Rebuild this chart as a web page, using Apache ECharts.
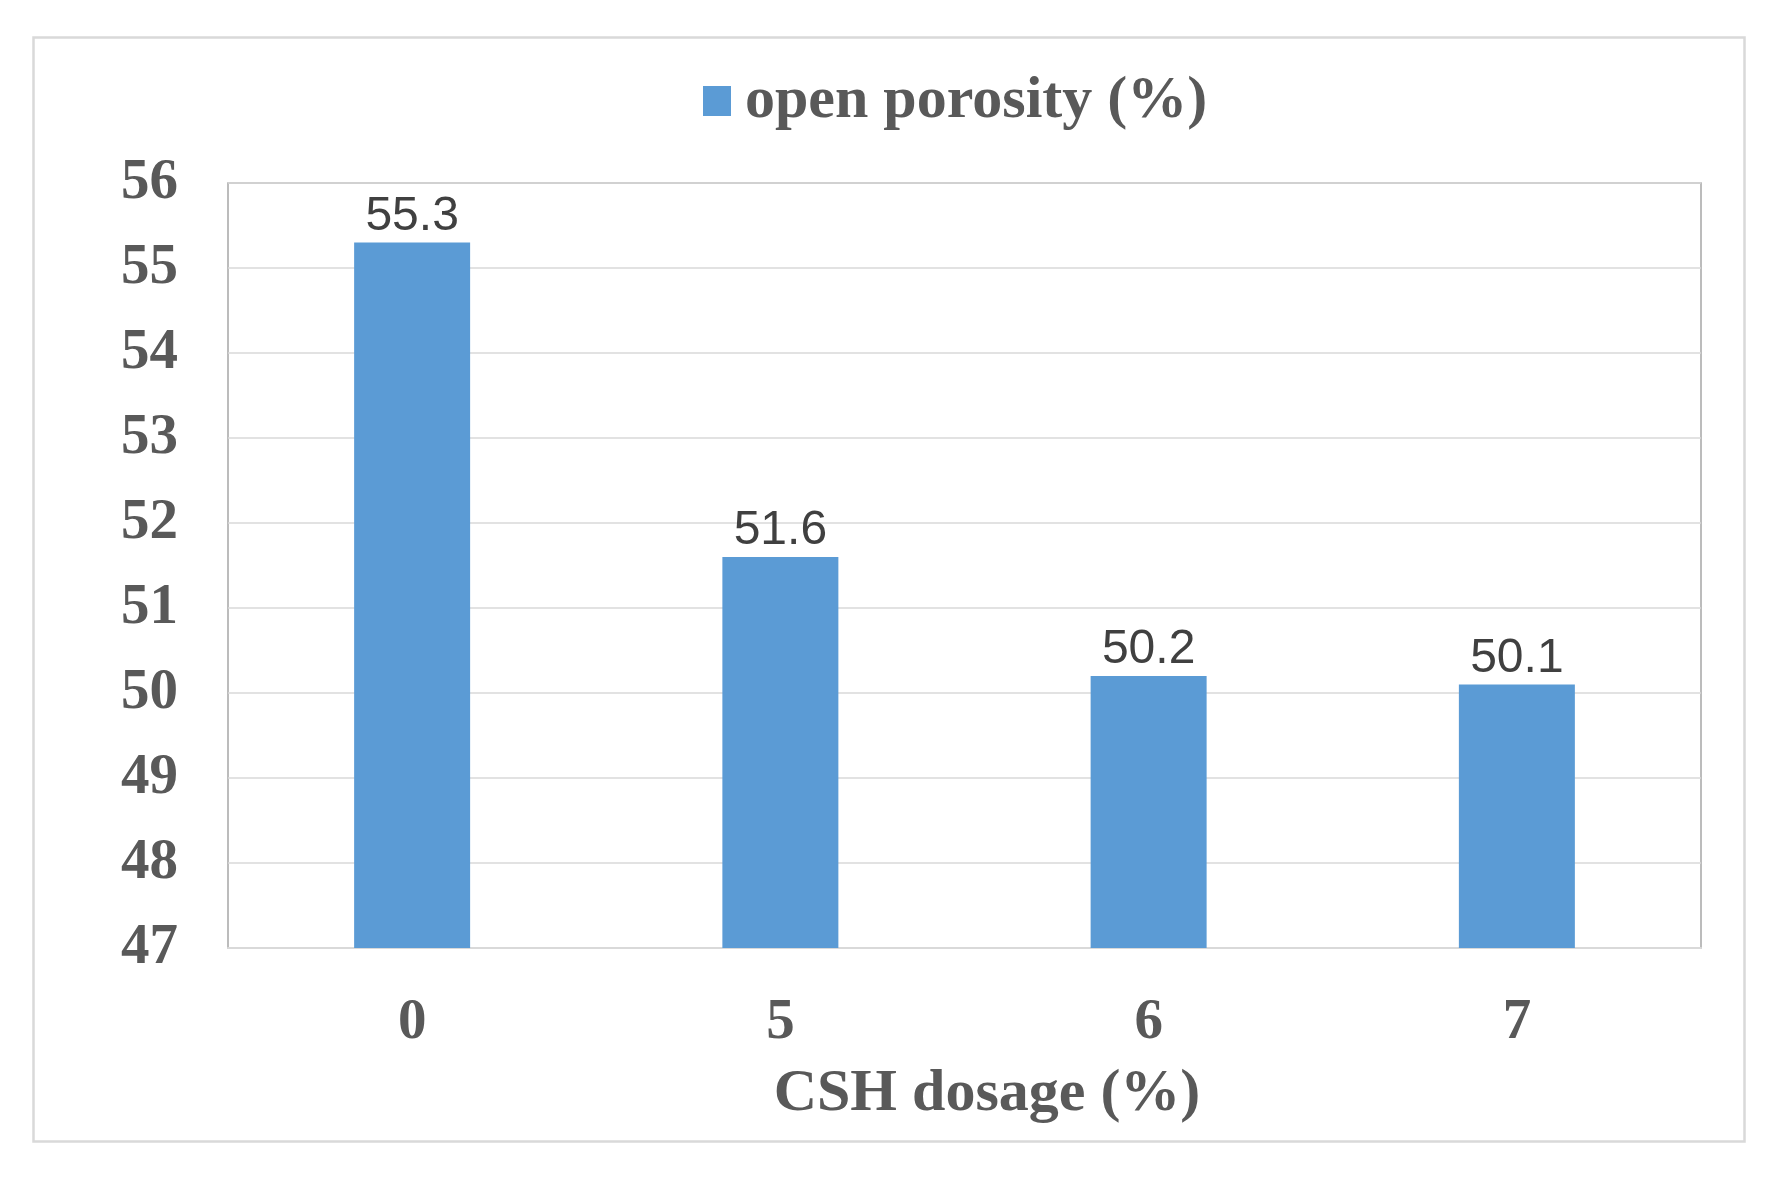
<!DOCTYPE html>
<html>
<head>
<meta charset="utf-8">
<script src="https://cdn.jsdelivr.net/npm/echarts@6/dist/echarts.min.js"></script>
<style>html,body{margin:0;padding:0;background:#fff}#c{width:1775px;height:1179px}</style>
</head>
<body>
<div id="c"></div>
<script>
const categories = ['0', '5', '6', '7'];
const seriesName = 'open porosity (%)';
const values = [55.3, 51.6, 50.2, 50.1];
const xAxisName = 'CSH dosage (%)';
const yMin = 47, yMax = 56, yInterval = 1;

const chart = echarts.init(document.getElementById('c'), null, {renderer: 'canvas'});
const serif = "'Liberation Serif', 'Times New Roman', serif";
const gray = '#595959';
chart.setOption({
  backgroundColor: '#ffffff',
  animation: false,
  graphic: [{
    type: 'rect', left: 31, top: 35,
    shape: {width: 1711, height: 1104},
    style: {fill: 'none', stroke: '#D9D9D9', lineWidth: 2.5},
    silent: true, z: -1
  }],
  legend: {
    show: true, left: 698, top: 66,
    itemWidth: 28, itemHeight: 30,
    icon: 'rect',
    textStyle: {fontFamily: serif, fontWeight: 'bold', fontSize: 60, color: gray, padding: [0, 0, 0, 9]},
    data: [seriesName]
  },
  grid: {left: 228, right: 74, top: 183, bottom: 231, show: true, borderColor: '#A6A6A6', borderWidth: 1.5, containLabel: false},
  xAxis: {
    type: 'category', data: categories,
    name: xAxisName, nameLocation: 'middle', nameGap: 116,
    nameTextStyle: {fontFamily: serif, fontWeight: 'bold', fontSize: 60, color: gray, padding: [0, 0, 0, 45]},
    axisLine: {show: true, lineStyle: {color: '#D9D9D9', width: 2}},
    axisTick: {show: false},
    axisLabel: {fontFamily: serif, fontWeight: 'bold', fontSize: 57, color: gray, margin: 47}
  },
  yAxis: {
    type: 'value', min: yMin, max: yMax, interval: yInterval,
    axisLine: {show: false}, axisTick: {show: false},
    splitLine: {lineStyle: {color: '#D9D9D9', width: 1.5}},
    axisLabel: {fontFamily: serif, fontWeight: 'bold', fontSize: 57, color: gray, margin: 50}
  },
  series: [{
    name: seriesName, type: 'bar', data: values,
    barWidth: '31.5%',
    itemStyle: {color: '#5B9BD5'},
    label: {show: true, position: 'top', distance: 2, fontFamily: "'Liberation Sans', Arial, sans-serif", fontSize: 48, color: '#404040'}
  }]
});
</script>
</body>
</html>
